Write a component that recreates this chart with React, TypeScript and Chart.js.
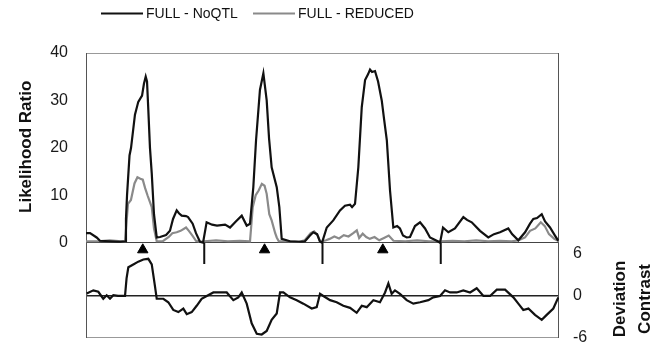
import React, { useEffect, useRef } from "react";
import { Chart, registerables } from "chart.js";

Chart.register(...registerables);

// genome position (cM, 4 chromosomes of 100 cM each)
const chromosomeBreaks = [100, 200, 300];
const qtlMarkers = [48, 151, 251];
const lrTicks = [0, 10, 20, 30, 40];
const devTicks = [-6, 0, 6];

const noQtlPos = [0, 3.4, 9, 11.8, 20.3, 28.8, 33, 33.8, 34.7, 36.8, 38.1, 41.4, 44.2, 47.4, 49, 50.5, 51.6, 52.7, 54.1, 55.6, 57.5, 59.8, 62.6, 67.7, 71, 73.6, 76.7, 78.6, 80.9, 84.6, 86.3, 90.2, 93, 96.4, 99,
  102, 106.6, 110.8, 117.6, 121.8, 126.9, 131.7, 135.9, 138.7, 141.5, 143.8, 147.1, 150, 152.8, 154.8, 157, 161.3, 163.5, 165.5, 172.5, 181, 185.2, 189.4, 192.2, 195.4, 197.9, 199.6,
  203.6, 209.1, 214.8, 219, 223.3, 225, 227.5, 230.3, 233.2, 236, 238.5, 240.2, 241.9, 244.4, 247, 250.1, 252.1, 254.4, 257.1, 259.9, 263.1, 265.5, 268.1, 271.2, 274, 278.2, 282.5, 286.7, 290.9, 296.6, 299.4,
  301.9, 306.4, 312, 319.1, 322.2, 326.2, 333.2, 340.2, 345, 350.1, 357.1, 360.3, 365.6, 371.3, 375.5, 378.3, 381.4, 385.4, 388.2, 392.4, 396.6, 399.4];
const noQtlVal = [2.0, 2.0, 1.1, 0.4, 0.3, 0.2, 0.3, 5, 10, 18.4, 20, 27, 29.7, 31, 33.5, 35, 34, 28, 20, 14.6, 6, 1.1, 1.2, 1.6, 2.5, 5, 6.8, 6.2, 5.7, 5.6, 5.4, 4, 2, 0.2, 0,
  4.3, 3.8, 3.6, 3.8, 3.2, 4.5, 5.7, 3.6, 4, 11.7, 21.6, 32.2, 35.7, 30, 22, 15.9, 11.7, 7.5, 0.8, 0.3, 0.2, 0.3, 1.5, 2.2, 1.8, 0.2, 0,
  3.2, 4.7, 6.8, 7.8, 8.0, 7.5, 8.2, 15.9, 28.6, 34.3, 35.5, 36.5, 36, 36.2, 34, 30, 26, 21.6, 11, 3.2, 3.5, 3.0, 1.5, 1.1, 1.2, 3.5, 4.3, 3, 1.1, 0.4, 0,
  3.2, 2.2, 3, 5.4, 4.8, 4.3, 2.5, 1.1, 1.8, 2.2, 3.0, 1.8, 0.5, 2.2, 4, 5.0, 5.2, 6.0, 4.5, 3.2, 1.5, 0.4];

const reducedPos = [0, 10, 20, 30, 33, 34.5, 35.5, 38, 41, 43.5, 46, 48, 50, 52, 55.6, 57.5, 59.8, 65, 70, 73, 76.7, 80, 84.6, 87, 90, 93, 96,
  100, 110, 120, 130, 138.7, 141, 143.5, 146, 148.7, 151, 152.8, 155, 157, 160, 161.3, 163, 170, 180, 185, 190, 193, 196, 198,
  200, 203, 206, 210, 214, 218, 222, 226, 229, 231, 234, 237, 240, 244, 248, 252, 256, 260, 270, 280, 290,
  300, 310, 320, 330, 340, 350, 360, 365.6, 371.3, 375.5, 380, 384.6, 388, 391.5, 396, 400];
const reducedVal = [0.3, 0.3, 0.5, 0.3, 0.3, 5, 8.2, 9, 12.5, 13.8, 13.5, 13.3, 11.5, 10, 7.5, 3, 0.3, 0.3, 1.2, 2.0, 2.2, 2.5, 3.2, 2.5, 1.5, 0.4, 0.2,
  0.3, 0.5, 0.3, 0.4, 0.3, 7.5, 10, 11, 12.4, 12, 10.3, 6, 4.7, 2, 1.1, 0.3, 0.3, 0.2, 0.5, 2, 2.4, 1.5, 0.2,
  0.3, 0.5, 0.8, 1.3, 0.9, 1.6, 1.3, 2.0, 2.6, 1.0, 1.9, 1.2, 0.8, 1.2, 0.5, 1.0, 1.5, 0.4, 0.3, 0.5, 0.3,
  0.3, 0.4, 0.3, 0.5, 0.3, 0.4, 0.3, 0.5, 1.1, 2.5, 3.0, 4.3, 3.5, 1.8, 0.8, 0.3];

const devPos = [0.6, 6.2, 10.4, 14.6, 17.5, 20.3, 23.1, 27.1, 33, 34.3, 35.8, 40, 44.2, 48.5, 52.7, 55.6, 58.4, 59.8, 65.4, 69.6, 73.8, 78.1, 82.3, 85.2, 89.4, 93.6, 97.8,
  102.1, 107.7, 113.3, 119, 124.6, 128.8, 131.7, 135.9, 140.1, 144.4, 148.6, 152.8, 157, 161.3, 164.1, 166.9, 172.5, 178.2, 183.8, 190.9, 195.1, 197.9,
  200.7, 206.4, 212, 217.6, 223.3, 228.9, 233.2, 237.4, 243, 248.6, 252.9, 255.7, 258.5, 261.3, 265.5, 271.2, 276.8, 282.5, 289.5, 293.7,
  299.4, 303.6, 307.9, 313.5, 319.1, 324.8, 330.4, 336.1, 341.7, 347.4, 354.4, 361.4, 365.6, 369.8, 374.1, 379.7, 385.4, 389.6, 395.2, 399.4];
const devVal = [0.34, 0.8, 0.6, -0.4, 0.1, -0.4, 0.1, 0, 0, 2.5, 4.1, 4.5, 4.9, 5.2, 5.3, 4.5, 1.3, -0.4, -0.4, -0.9, -2.0, -2.3, -1.8, -2.6, -2.3, -1.4, -0.4,
  0, 0.5, 0.5, 0.5, -0.6, -0.2, 0.5, -1.1, -3.9, -5.4, -5.5, -5.0, -3.4, -2.5, 0.5, 0.5, -0.2, -0.6, -1.1, -1.8, -1.6, 0.3,
  0, -0.6, -0.9, -1.4, -1.7, -2.4, -1.4, -1.6, -0.6, -0.9, 0.5, 1.8, 0.3, 0.8, 0.3, -0.6, -1.1, -0.9, -0.6, -0.2,
  0, 0.8, 0.5, 0.5, 0.8, 0.5, 1.1, 0, 0, 0.9, 0.9, -0.2, -1.1, -2.0, -1.8, -2.7, -3.4, -2.7, -1.8, -0.2];

const FONT = "'Liberation Sans', Arial, sans-serif";

function pts(xs: number[], ys: number[]) {
  return xs.map((x, i) => ({ x, y: ys[i] }));
}

const framePlugin = {
  id: "frame",
  beforeDatasetsDraw(chart: any) {
    const { ctx, chartArea: a } = chart;
    ctx.save();
    ctx.lineWidth = 1;
    ctx.strokeStyle = "#999";
    ctx.beginPath();
    ctx.moveTo(a.left, a.top + 0.5);
    ctx.lineTo(a.right, a.top + 0.5);
    ctx.moveTo(a.left, a.bottom - 0.5);
    ctx.lineTo(a.right, a.bottom - 0.5);
    ctx.stroke();
    ctx.strokeStyle = "#555";
    ctx.beginPath();
    ctx.moveTo(a.left + 0.5, a.top);
    ctx.lineTo(a.left + 0.5, a.bottom);
    ctx.moveTo(a.right - 0.5, a.top);
    ctx.lineTo(a.right - 0.5, a.bottom);
    ctx.stroke();
    ctx.restore();
  },
};

const textPlugin = {
  id: "texts",
  afterDraw(chart: any) {
    const { ctx, chartArea: a } = chart;
    const y = chart.scales.y;
    const y2 = chart.scales.y2;
    ctx.save();
    const ly = 13.5;
    ctx.font = `14px ${FONT}`;
    ctx.textBaseline = "middle";
    ctx.textAlign = "left";
    ctx.fillStyle = "#111";
    const items = [
      { label: "FULL - NoQTL", color: "#111", x: a.left + 15 },
      { label: "FULL - REDUCED", color: "#8a8a8a", x: a.left + 167 },
    ];
    for (const it of items) {
      ctx.strokeStyle = it.color;
      ctx.lineWidth = 2;
      ctx.beginPath();
      ctx.moveTo(it.x, ly);
      ctx.lineTo(it.x + 42, ly);
      ctx.stroke();
      ctx.fillText(it.label, it.x + 45, ly + 1);
    }
    ctx.font = `bold 17px ${FONT}`;
    ctx.textAlign = "center";
    ctx.translate(26, y.getPixelForValue(20) - 1);
    ctx.rotate(-Math.PI / 2);
    ctx.fillText("Likelihood Ratio", 0, 0);
    ctx.restore();
    ctx.save();
    ctx.font = `bold 17px ${FONT}`;
    ctx.textAlign = "center";
    ctx.textBaseline = "middle";
    ctx.fillStyle = "#111";
    const cy = y2.getPixelForValue(0) + 3;
    ctx.translate(a.right + 61, cy);
    ctx.rotate(-Math.PI / 2);
    ctx.fillText("Deviation", 0, 0);
    ctx.fillText("Contrast", 0, 25);
    ctx.restore();
  },
};

const noPad = (s: any, w: number) => {
  s.width = w;
  s.paddingTop = 0;
  s.paddingBottom = 0;
};

export default function App() {
  const ref = useRef<HTMLCanvasElement>(null);
  useEffect(() => {
    const sepData: any[] = [];
    chromosomeBreaks.forEach((b) => {
      sepData.push({ x: b, y: 0 }, { x: b, y: -4.5 }, { x: b, y: null });
    });
    const chart = new Chart(ref.current as HTMLCanvasElement, {
      type: "line",
      data: {
        datasets: [
          { label: "FULL - NoQTL", data: pts(noQtlPos, noQtlVal), borderColor: "#111", borderWidth: 2.2, pointRadius: 0, yAxisID: "y", order: 1, tension: 0 },
          { label: "FULL - REDUCED", data: pts(reducedPos, reducedVal), borderColor: "#8a8a8a", borderWidth: 2.2, pointRadius: 0, yAxisID: "y", order: 3, tension: 0 },
          { label: "Deviation Contrast", data: pts(devPos, devVal), borderColor: "#111", borderWidth: 2.2, pointRadius: 0, yAxisID: "y2", order: 1, tension: 0 },
          { label: "Chromosome breaks", data: sepData, borderColor: "#111", borderWidth: 2, pointRadius: 0, yAxisID: "y", spanGaps: false, order: 0 },
          { label: "QTL", data: qtlMarkers.map((x) => ({ x, y: -1.5 })), showLine: false, pointStyle: "triangle", pointRadius: 6, pointBackgroundColor: "#000", pointBorderColor: "#000", borderColor: "#000", backgroundColor: "#000", yAxisID: "y", order: 0 },
        ] as any,
      },
      options: {
        animation: false,
        responsive: false,
        maintainAspectRatio: false,
        layout: { padding: { top: 53, bottom: 13, left: 0, right: 0 } },
        plugins: { legend: { display: false }, tooltip: { enabled: false } },
        scales: {
          x: { type: "linear", min: 0, max: 400, display: false },
          y: {
            position: "left",
            min: -20.1,
            max: 40,
            afterBuildTicks: (s: any) => { s.ticks = lrTicks.map((v) => ({ value: v })); },
            afterFit: (s: any) => noPad(s, 86),
            grid: { color: (c: any) => (c.tick && c.tick.value === 0 ? "#444" : "rgba(0,0,0,0)"), drawTicks: false, lineWidth: 1 },
            border: { display: false },
            ticks: { padding: 18, color: "#1a1a1a", font: { family: FONT, size: 16 } },
          },
          y2: {
            position: "right",
            min: -6,
            max: 34.67,
            afterBuildTicks: (s: any) => { s.ticks = devTicks.map((v) => ({ value: v })); },
            afterFit: (s: any) => noPad(s, 107),
            grid: { color: (c: any) => (c.tick && c.tick.value === 0 ? "#222" : "rgba(0,0,0,0)"), drawTicks: false, lineWidth: 1.5 },
            border: { display: false },
            ticks: { padding: 14, color: "#1a1a1a", font: { family: FONT, size: 16 } },
          },
        },
      } as any,
      plugins: [framePlugin, textPlugin],
    });
    return () => chart.destroy();
  }, []);
  return (
    <div style={{ position: "absolute", left: 0, top: 0, width: 666, height: 351, background: "#fff" }}>
      <canvas ref={ref} width={666} height={351} style={{ width: 666, height: 351, display: "block" }} />
    </div>
  );
}
